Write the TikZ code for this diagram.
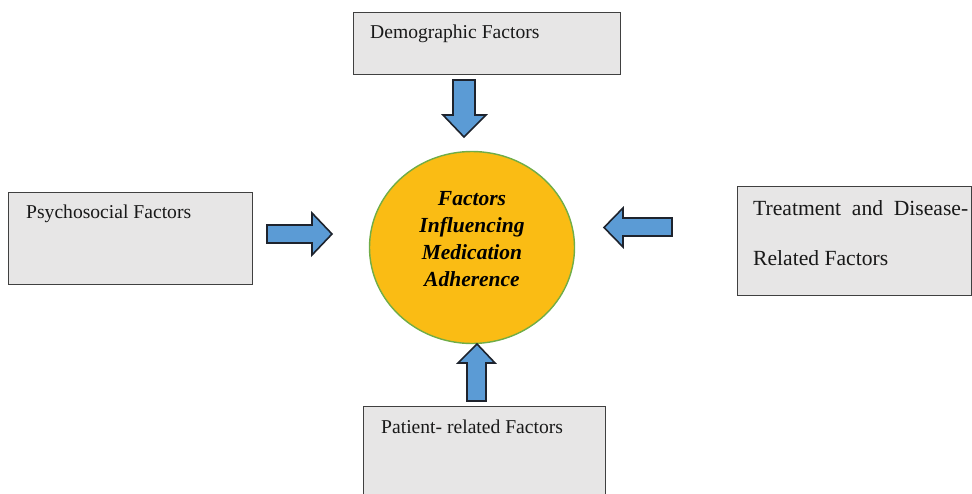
\documentclass[tikz,border=0pt]{standalone}
\usepackage{fontspec}
\setmainfont{Liberation Serif}
\usetikzlibrary{shapes.geometric}
\definecolor{boxgray}{RGB}{231,230,230}
\definecolor{boxline}{RGB}{64,64,64}
\definecolor{arrowblue}{RGB}{91,155,213}
\definecolor{arrowline}{RGB}{30,35,45}
\definecolor{coregold}{RGB}{250,188,20}
\definecolor{coregreen}{RGB}{112,173,71}

\begin{document}
\begin{tikzpicture}[x=1pt, y=-1pt,
  factorbox/.style={draw=boxline, fill=boxgray, line width=1.3pt, rectangle, inner sep=0pt, anchor=north west},
  boxtext/.style={anchor=base west, inner sep=0pt, text=black!90, font=\fontsize{19.6}{24}\selectfont},
  blockarrow/.style={draw=arrowline, fill=arrowblue, line width=1.6pt, line join=miter}]
  \useasboundingbox (0,0) rectangle (972,493);
  \clip (0,0) rectangle (972,493);

  % the four factor boxes
  \node[factorbox, minimum width=267pt, minimum height=62pt] (demo) at (353,12) {};
  \node[factorbox, minimum width=244pt, minimum height=92pt] (psycho) at (8,192) {};
  \node[factorbox, minimum width=234pt, minimum height=109pt] (treat) at (737,186) {};
  \node[factorbox, minimum width=242pt, minimum height=110pt] (patient) at (363,406) {};

  \node[boxtext] (demotext) at (370,38) {Demographic Factors};
  \node[boxtext] (psychotext) at (26,218) {Psychosocial Factors};
  \node[boxtext, font=\fontsize{21.6}{26}\selectfont] (treattext) at (753,215) {\makebox[215pt][s]{Treatment and Disease-}};
  \node[boxtext, font=\fontsize{21.6}{26}\selectfont] (treattext2) at (753,265) {Related Factors};
  \node[boxtext] (patienttext) at (381,433) {Patient- related Factors};

  % centre
  \node[ellipse, draw=coregreen, fill=coregold, line width=1.4pt, inner sep=0pt,
        minimum width=205pt, minimum height=192pt] (core) at (472,247.5) {};
  \node[align=center, inner sep=0pt, font=\fontsize{21.5}{27}\selectfont\bfseries\itshape] (coretext) at (472,239)
    {Factors\\Influencing\\Medication\\Adherence};

  % block arrows
  \draw[blockarrow] (453,80) -- (475,80) -- (475,115) -- (486,115) -- (464,137) -- (443,115) -- (453,115) -- cycle;
  \draw[blockarrow] (267,225) -- (312,225) -- (312,213) -- (332,234) -- (312,255) -- (312,243) -- (267,243) -- cycle;
  \draw[blockarrow] (672,218) -- (623,218) -- (623,208) -- (604,227.5) -- (623,247) -- (623,236) -- (672,236) -- cycle;
  \draw[blockarrow] (467,401) -- (467,363) -- (458,363) -- (477,344) -- (495,363) -- (486,363) -- (486,401) -- cycle;
\end{tikzpicture}
\end{document}
